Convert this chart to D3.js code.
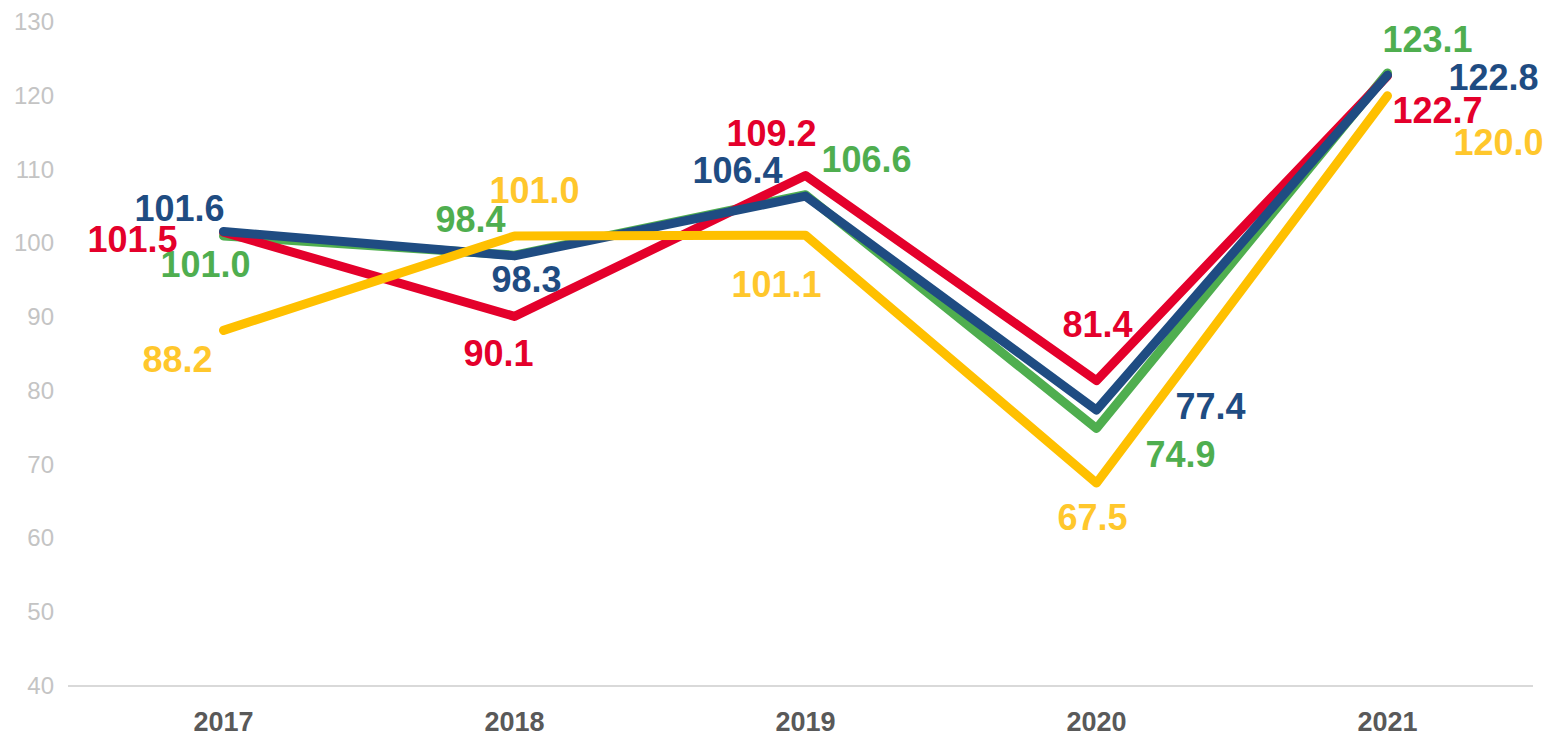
<!DOCTYPE html>
<html>
<head>
<meta charset="utf-8">
<script src="https://cdn.jsdelivr.net/npm/d3@7"></script>
<style>
  body { margin: 0; background: #fff; }
  svg text { font-family: "Liberation Sans", Arial, sans-serif; }
</style>
</head>
<body>
<div id="chart"></div>
<script>
// data
const years = ["2017", "2018", "2019", "2020", "2021"];
const greenValues = [101.0, 98.4, 106.6, 74.9, 123.1];
const redValues = [101.5, 90.1, 109.2, 81.4, 122.7];
const blueValues = [101.6, 98.3, 106.4, 77.4, 122.8];
const yellowValues = [88.2, 101.0, 101.1, 67.5, 120.0];
const yTicks = [40, 50, 60, 70, 80, 90, 100, 110, 120, 130];

// label placement (dx, dy from the point, dy to text baseline)
const greenLabelPos = [[-18, 41], [-44, -23], [61, -23], [84, 38], [40, -21]];
const redLabelPos = [[-91, 20], [-16, 50], [-34, -29], [1, -44], [50, 47]];
const blueLabelPos = [[-44, -11], [12, 36], [-68, -13], [114, 9], [106, 15]];
const yellowLabelPos = [[-46, 42], [20, -33], [-29, 62], [-4, 47], [111, 59]];

const series = [
  { values: greenValues, line: "#4fae4f", text: "#4fae4f", pos: greenLabelPos },
  { values: redValues, line: "#e4002b", text: "#e4002b", pos: redLabelPos },
  { values: blueValues, line: "#1f4c82", text: "#1f4c82", pos: blueLabelPos },
  { values: yellowValues, line: "#ffc000", text: "#ffc72c", pos: yellowLabelPos }
];

const width = 1549;
const height = 738;

const svg = d3.select("#chart")
  .append("svg")
    .attr("width", width)
    .attr("height", height);

// scales
const x = d3.scaleBand()
  .domain(years)
  .range([78, 1533]);

const y = d3.scaleLinear()
  .domain([40, 130])
  .range([686, 22]);

const cx = d => x(d) + x.bandwidth() / 2;

// y tick labels
svg.append("g")
  .selectAll("text")
  .data(yTicks)
  .join("text")
    .attr("x", 54)
    .attr("y", d => y(d) + 8)
    .attr("text-anchor", "end")
    .style("font-size", "24px")
    .style("fill", "#c4c4c4")
    .text(d => d);

// x axis line
svg.append("line")
  .attr("x1", 68)
  .attr("x2", 1533)
  .attr("y1", y(40))
  .attr("y2", y(40))
  .attr("stroke", "#d9d9d9")
  .attr("stroke-width", 2);

// x labels
svg.append("g")
  .selectAll("text")
  .data(years)
  .join("text")
    .attr("x", d => cx(d))
    .attr("y", 731)
    .attr("text-anchor", "middle")
    .style("font-size", "27px")
    .style("font-weight", "bold")
    .style("fill", "#595959")
    .text(d => d);

// lines
const line = d3.line()
  .x((d, i) => cx(years[i]))
  .y(d => y(d));

series.forEach(s => {
  svg.append("path")
    .datum(s.values)
    .attr("d", line)
    .attr("fill", "none")
    .attr("stroke", s.line)
    .attr("stroke-width", 9)
    .attr("stroke-linejoin", "round")
    .attr("stroke-linecap", "round");
});

// value labels
series.forEach(s => {
  svg.append("g")
    .selectAll("text")
    .data(s.values)
    .join("text")
      .attr("x", (d, i) => cx(years[i]) + s.pos[i][0])
      .attr("y", (d, i) => y(d) + s.pos[i][1])
      .attr("text-anchor", "middle")
      .style("font-size", "36px")
      .style("font-weight", "bold")
      .style("fill", s.text)
      .text(d => d.toFixed(1));
});
</script>
</body>
</html>
